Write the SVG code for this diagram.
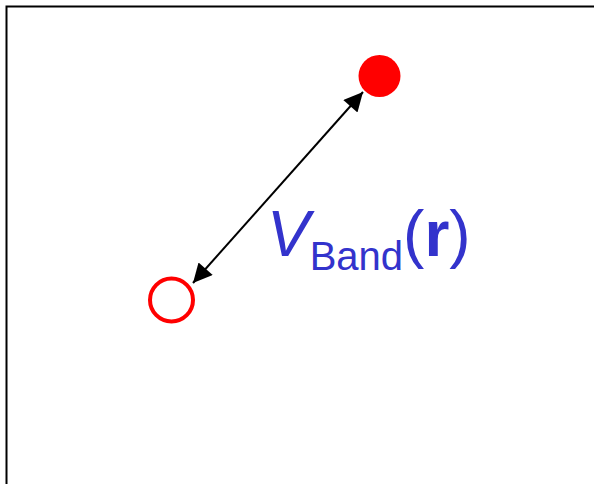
<svg xmlns="http://www.w3.org/2000/svg" width="594" height="484" viewBox="0 0 594 484">
<defs>
<style>
.lbl{font-family:"Liberation Sans",Arial,sans-serif;fill:#3333CC}
</style>
<marker id="ah" viewBox="0 0 10 10" refX="10" refY="5" markerWidth="21" markerHeight="19" markerUnits="userSpaceOnUse" orient="auto-start-reverse">
<path d="M0,0 L10,5 L0,10 Z" fill="#000"/>
</marker>
</defs>
<rect width="594" height="484" fill="#fff"/>
<rect x="6.5" y="6.5" width="600" height="500" fill="none" stroke="#000" stroke-width="2"/>
<g id="connectors">
<line x1="193" y1="283" x2="363" y2="92" stroke="#000" stroke-width="2" marker-start="url(#ah)" marker-end="url(#ah)"/>
</g>
<g id="filled-site">
<circle cx="379.5" cy="76" r="21" fill="#ff0000"/>
</g>
<g id="empty-site">
<circle cx="171.5" cy="300" r="21.5" fill="none" stroke="#ff0000" stroke-width="4"/>
</g>
<g id="label">
<text class="lbl" x="267" y="256" font-size="64"><tspan font-style="italic">V</tspan><tspan font-size="40" dy="14">Band</tspan><tspan dy="-14">(</tspan><tspan font-weight="bold">r</tspan><tspan>)</tspan></text>
</g>
</svg>
